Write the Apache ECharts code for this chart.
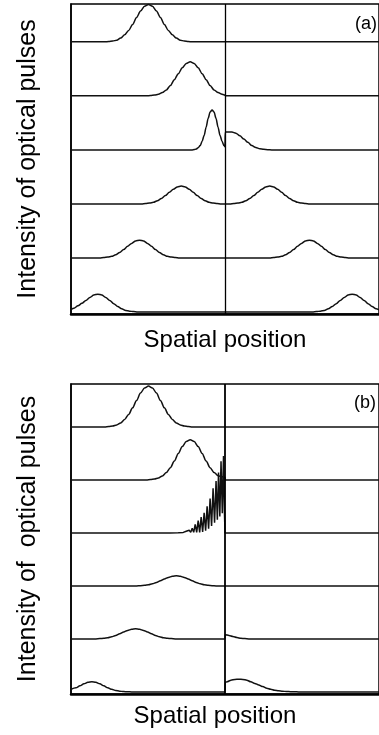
<!DOCTYPE html>
<html>
<head>
<meta charset="utf-8">
<script src="https://cdn.jsdelivr.net/npm/echarts@6/dist/echarts.min.js"></script>
<style>
  html, body { margin: 0; padding: 0; background: #fff; }
  #chart { width: 379px; height: 735px; }
</style>
</head>
<body>
<div id="chart"></div>
<script>
// Spatial position runs 0..310 with the interface at 155.
// Intensity is given in units of the spacing between stacked traces.
const interfaceX = 155;
const spanX = [0, 310];

// Panel (a): successive snapshots, top to bottom.
const traceA1 = [[0,0],[34,0],[38,.006],[42,.015],[46,.03],[50,.07],[54,.13],[58,.21],[62,.32],[66,.45],[70,.57],[74,.66],[78,.69],[82,.66],[86,.57],[90,.45],[94,.32],[98,.21],[102,.13],[106,.07],[110,.03],[114,.015],[118,.006],[122,0],[310,0]];
const traceA2 = [[0,0],[76,0],[80,.006],[84,.014],[88,.03],[92,.06],[96,.11],[100,.19],[104,.30],[108,.41],[112,.52],[116,.60],[120,.63],[124,.60],[128,.52],[132,.41],[136,.30],[140,.19],[144,.11],[148,.06],[152,.03],[154,.02],[156,0],[310,0]];
const traceA3 = [[0,0],[122,0],[124,.005],[126,.015],[128,.04],[130,.08],[132,.16],[134,.27],[136,.42],[138,.58],[140,.70],[142,.74],[144,.70],[146,.58],[148,.42],[150,.27],[152,.16],[154,.08],[155,.06],[155.3,.33],[158,.33],[162,.33],[166,.31],[170,.26],[174,.20],[178,.14],[182,.08],[186,.045],[190,.02],[194,.01],[198,.004],[202,0],[310,0]];
const traceA4 = [[0,0],[71,0],[75,.007],[79,.016],[83,.03],[87,.06],[91,.10],[95,.155],[99,.215],[103,.27],[107,.315],[111,.33],[115,.315],[119,.27],[123,.215],[127,.155],[131,.10],[135,.06],[139,.03],[143,.016],[147,.007],[151,0],[160,0],[164,.007],[168,.016],[172,.03],[176,.06],[180,.10],[184,.155],[188,.215],[192,.27],[196,.315],[200,.33],[204,.315],[208,.27],[212,.215],[216,.155],[220,.10],[224,.06],[228,.03],[232,.016],[236,.007],[240,0],[310,0]];
const traceA5 = [[0,0],[29,0],[33,.007],[37,.016],[41,.03],[45,.06],[49,.10],[53,.155],[57,.215],[61,.27],[65,.315],[69,.33],[73,.315],[77,.27],[81,.215],[85,.155],[89,.10],[93,.06],[97,.03],[101,.016],[105,.007],[109,0],[200,0],[204,.007],[208,.016],[212,.03],[216,.06],[220,.10],[224,.155],[228,.215],[232,.27],[236,.315],[240,.33],[244,.315],[248,.27],[252,.215],[256,.155],[260,.10],[264,.06],[268,.03],[272,.016],[276,.007],[280,0],[310,0]];
const traceA6 = [[0,.045],[3,.07],[7,.115],[11,.16],[15,.215],[19,.27],[23,.315],[27,.33],[31,.315],[35,.27],[39,.215],[43,.155],[47,.10],[51,.06],[55,.03],[59,.016],[63,.007],[67,0],[243,0],[247,.007],[251,.016],[255,.03],[259,.06],[263,.10],[267,.155],[271,.215],[275,.27],[279,.315],[283,.33],[287,.315],[291,.27],[295,.215],[299,.155],[303,.10],[307,.06],[310,.04]];

// Panel (b): same launch, different interface behaviour.
const traceB1 = [[0,0],[34,0],[38,.007],[42,.017],[46,.037],[50,.075],[54,.14],[58,.235],[62,.36],[66,.50],[70,.64],[74,.735],[78,.77],[82,.735],[86,.64],[90,.50],[94,.36],[98,.235],[102,.14],[106,.075],[110,.037],[114,.017],[118,.007],[122,0],[310,0]];
const traceB2 = [[0,0],[76,0],[80,.007],[84,.017],[88,.036],[92,.075],[96,.14],[100,.23],[104,.355],[108,.50],[112,.63],[116,.725],[120,.76],[124,.725],[128,.63],[132,.50],[136,.355],[140,.23],[144,.14],[148,.08],[152,.06],[155,.05],[155.3,0],[310,0]];
const traceB3 = [[0,0],[100,0],[108,.005],[113,.01],[116,.03],[117.5,.01],[119,.05],[120.5,.01],[122,.09],[123.5,.01],[125,.16],[126.5,.01],[128,.23],[129.5,.01],[131,.30],[132.5,.02],[134,.38],[135.5,.04],[137,.50],[138.5,.08],[140,.65],[141.5,.13],[143,.84],[144.5,.19],[146,.98],[147.3,.25],[148.5,1.14],[149.8,.31],[151,1.35],[152.3,.37],[153.5,1.45],[154.4,.42],[155,0],[310,0]];
const traceB4 = [[0,0],[66,0],[70,.005],[74,.01],[78,.02],[82,.04],[86,.065],[90,.095],[94,.13],[98,.16],[102,.18],[106,.19],[110,.18],[114,.16],[118,.13],[122,.095],[126,.065],[130,.04],[134,.02],[138,.01],[142,.005],[146,0],[310,0]];
const traceB5 = [[0,0],[25,0],[29,.005],[33,.01],[37,.02],[41,.04],[45,.065],[49,.095],[53,.13],[57,.16],[61,.18],[65,.19],[69,.18],[73,.16],[77,.13],[81,.095],[85,.065],[89,.04],[93,.02],[97,.01],[101,.005],[105,0],[155,0],[155.3,.08],[159,.065],[163,.045],[167,.025],[171,.012],[175,.005],[179,0],[310,0]];
const traceB6 = [[0,.05],[5,.078],[9,.115],[13,.152],[17,.18],[21,.19],[25,.18],[29,.152],[33,.115],[37,.078],[41,.048],[45,.026],[49,.013],[53,.006],[57,.002],[61,0],[155,0],[155.3,.18],[157,.19],[161,.22],[165,.235],[169,.24],[173,.235],[177,.22],[181,.19],[185,.16],[189,.13],[193,.10],[197,.07],[201,.05],[205,.032],[209,.02],[213,.012],[217,.007],[221,.004],[225,.002],[229,0],[310,0]];

const tracesA = [traceA1, traceA2, traceA3, traceA4, traceA5, traceA6];
const tracesB = [traceB1, traceB2, traceB3, traceB4, traceB5, traceB6];

const panelTags = ['(a)', '(b)'];
const yTitles = ['Intensity of optical pulses', 'Intensity of  optical pulses'];
const xTitle = 'Spatial position';

const FONT = '"Liberation Sans", Arial, Helvetica, sans-serif';
const INK = '#111';

const chart = echarts.init(document.getElementById('chart'), null, { renderer: 'canvas' });

// Each trace sits on its own baseline: the top trace on 5, the bottom one on 0.
function stackSeries(traces, axisIdx, roughIdx) {
  const n = traces.length;
  return traces.map((pts, i) => {
    const s = {
      type: 'line',
      xAxisIndex: axisIdx,
      yAxisIndex: axisIdx,
      data: pts.map(([x, v]) => [x, (n - 1 - i) + v]),
      symbol: 'none',
      showSymbol: false,
      smooth: i === roughIdx ? false : 0.3,
      smoothMonotone: 'x',
      clip: false,
      silent: true,
      z: 3,
      lineStyle: { color: INK, width: 1.5 }
    };
    if (i === 0) {
      s.markLine = {
        silent: true,
        symbol: 'none',
        label: { show: false },
        animation: false,
        lineStyle: { color: '#000', width: axisIdx === 0 ? 1.3 : 1.8, type: 'solid' },
        data: [{ xAxis: interfaceX }]
      };
    }
    return s;
  });
}

function xAx(gridIndex, padding) {
  return {
    type: 'value', gridIndex, min: spanX[0], max: spanX[1],
    axisLine: { show: true, onZero: false, lineStyle: { color: '#000', width: 2.5 } },
    axisTick: { show: false }, axisLabel: { show: false }, splitLine: { show: false },
    name: xTitle, nameLocation: 'middle', nameGap: gridIndex === 0 ? 14 : 10,
    nameTextStyle: { fontFamily: FONT, fontSize: 24, color: '#000', padding }
  };
}

function yAx(gridIndex, min, max, title) {
  return {
    type: 'value', gridIndex, min, max,
    axisLine: { show: true, onZero: false, lineStyle: { color: '#000', width: 1.5 } },
    axisTick: { show: false }, axisLabel: { show: false }, splitLine: { show: false },
    name: title, nameLocation: 'middle', nameRotate: 90, nameGap: 30,
    nameTextStyle: { fontFamily: FONT, fontSize: 25, color: '#000' }
  };
}

const option = {
  animation: false,
  backgroundColor: '#fff',
  grid: [
    { left: 71, top: 4, width: 310, height: 310, show: true, borderColor: '#000', borderWidth: 1.5, backgroundColor: 'transparent' },
    { left: 71, top: 384, width: 310, height: 310, show: true, borderColor: '#000', borderWidth: 1.5, backgroundColor: 'transparent' }
  ],
  xAxis: [xAx(0, [0, 0, 0, 0]), xAx(1, [0, 20, 0, 0])],
  yAxis: [yAx(0, -0.037, 5.70, yTitles[0]), yAx(1, -0.04, 5.81, yTitles[1])],
  graphic: [
    { type: 'text', left: 355, top: 15, style: { text: panelTags[0], font: '18px ' + FONT, fill: '#000' } },
    { type: 'text', left: 354, top: 394, style: { text: panelTags[1], font: '18px ' + FONT, fill: '#000' } }
  ],
  series: [...stackSeries(tracesA, 0, -1), ...stackSeries(tracesB, 1, 2)]
};

chart.setOption(option);
</script>
</body>
</html>
